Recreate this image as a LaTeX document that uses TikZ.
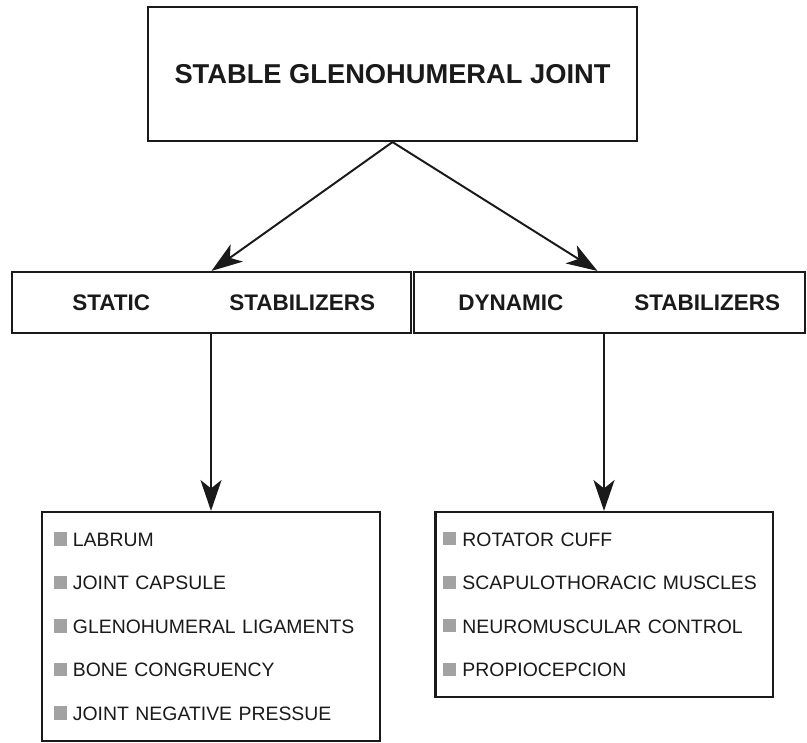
\documentclass[tikz,border=0pt]{standalone}
\usepackage{fontspec}
\setmainfont{Liberation Sans}
\definecolor{ChartInk}{HTML}{1A1A1A}
\definecolor{ChartBullet}{HTML}{A2A2A2}
\usepackage{tikz}
\usetikzlibrary{arrows.meta, positioning}
\newcommand{\listmark}{{\color{ChartBullet}\rule[0.5pt]{9pt}{9.5pt}}\hspace{4.5pt}}
\tikzset{
    box/.style={
        draw=ChartInk,
        line width=1.5pt,
        fill=white,
        text=ChartInk,
        inner sep=0pt,
        align=center
    },
    headtext/.style={
        text=ChartInk,
        font=\fontsize{16pt}{19pt}\selectfont\bfseries,
        inner sep=0pt,
        anchor=west
    },
    listbox/.style={
        draw=ChartInk,
        line width=1.5pt,
        fill=white,
        text=ChartInk,
        font=\fontsize{13.8pt}{30.94pt}\selectfont,
        align=left,
        inner ysep=0pt
    },
    arrow/.style={
        line width=1.4pt,
        ChartInk,
        -{Stealth[length=22pt, width=15pt, inset=6pt, fill=ChartInk]}
    }
}

\begin{document}
\begin{tikzpicture}[x=0.025cm, y=-0.025cm]
        \useasboundingbox (0,0) rectangle (807,742);

        % Joint box
        \node[box, minimum width=12.225cm, minimum height=3.35cm, font=\fontsize{19.4pt}{23pt}\selectfont\bfseries] (joint) at (392.5,74) {STABLE GLENOHUMERAL JOINT};

        % Static stabilizers
        \node[box, minimum width=9.975cm, minimum height=1.525cm] (static) at (211.5,302.5) {};
        \node[headtext] (staticword) at (72,302.5) {STATIC};
        \node[headtext] (staticstab) at (229,302.5) {STABILIZERS};

        % Dynamic stabilizers
        \node[box, minimum width=9.775cm, minimum height=1.525cm] (dynamic) at (609.5,302.5) {};
        \node[headtext] (dynamicword) at (458,302.5) {DYNAMIC};
        \node[headtext] (dynamicstab) at (634,302.5) {STABILIZERS};

        % Lists
        \node[listbox, inner xsep=0.3cm, text width=7.85cm, minimum height=5.725cm] (statlist) at (211,626.5) {
            \listmark LABRUM\\
            \listmark JOINT CAPSULE\\
            \listmark GLENOHUMERAL LIGAMENTS\\
            \listmark BONE CONGRUENCY\\
            \listmark JOINT NEGATIVE PRESSUE
        };
        \node[listbox, inner xsep=0.2cm, text width=8.025cm, minimum height=4.625cm] (dynlist) at (604,604.5) {
            \listmark ROTATOR CUFF\\
            \listmark SCAPULOTHORACIC MUSCLES\\
            \listmark NEUROMUSCULAR CONTROL\\
            \listmark PROPIOCEPCION
        };

        % Arrows
        \draw[arrow] (joint.south) -- (static.north);
        \draw[arrow] (joint.south) -- ([xshift=-0.3cm]dynamic.north);
        \draw[arrow] (static.south -| statlist.north) -- (statlist.north);
        \draw[arrow] (dynamic.south -| dynlist.north) -- (dynlist.north);
    \end{tikzpicture}
\end{document}
